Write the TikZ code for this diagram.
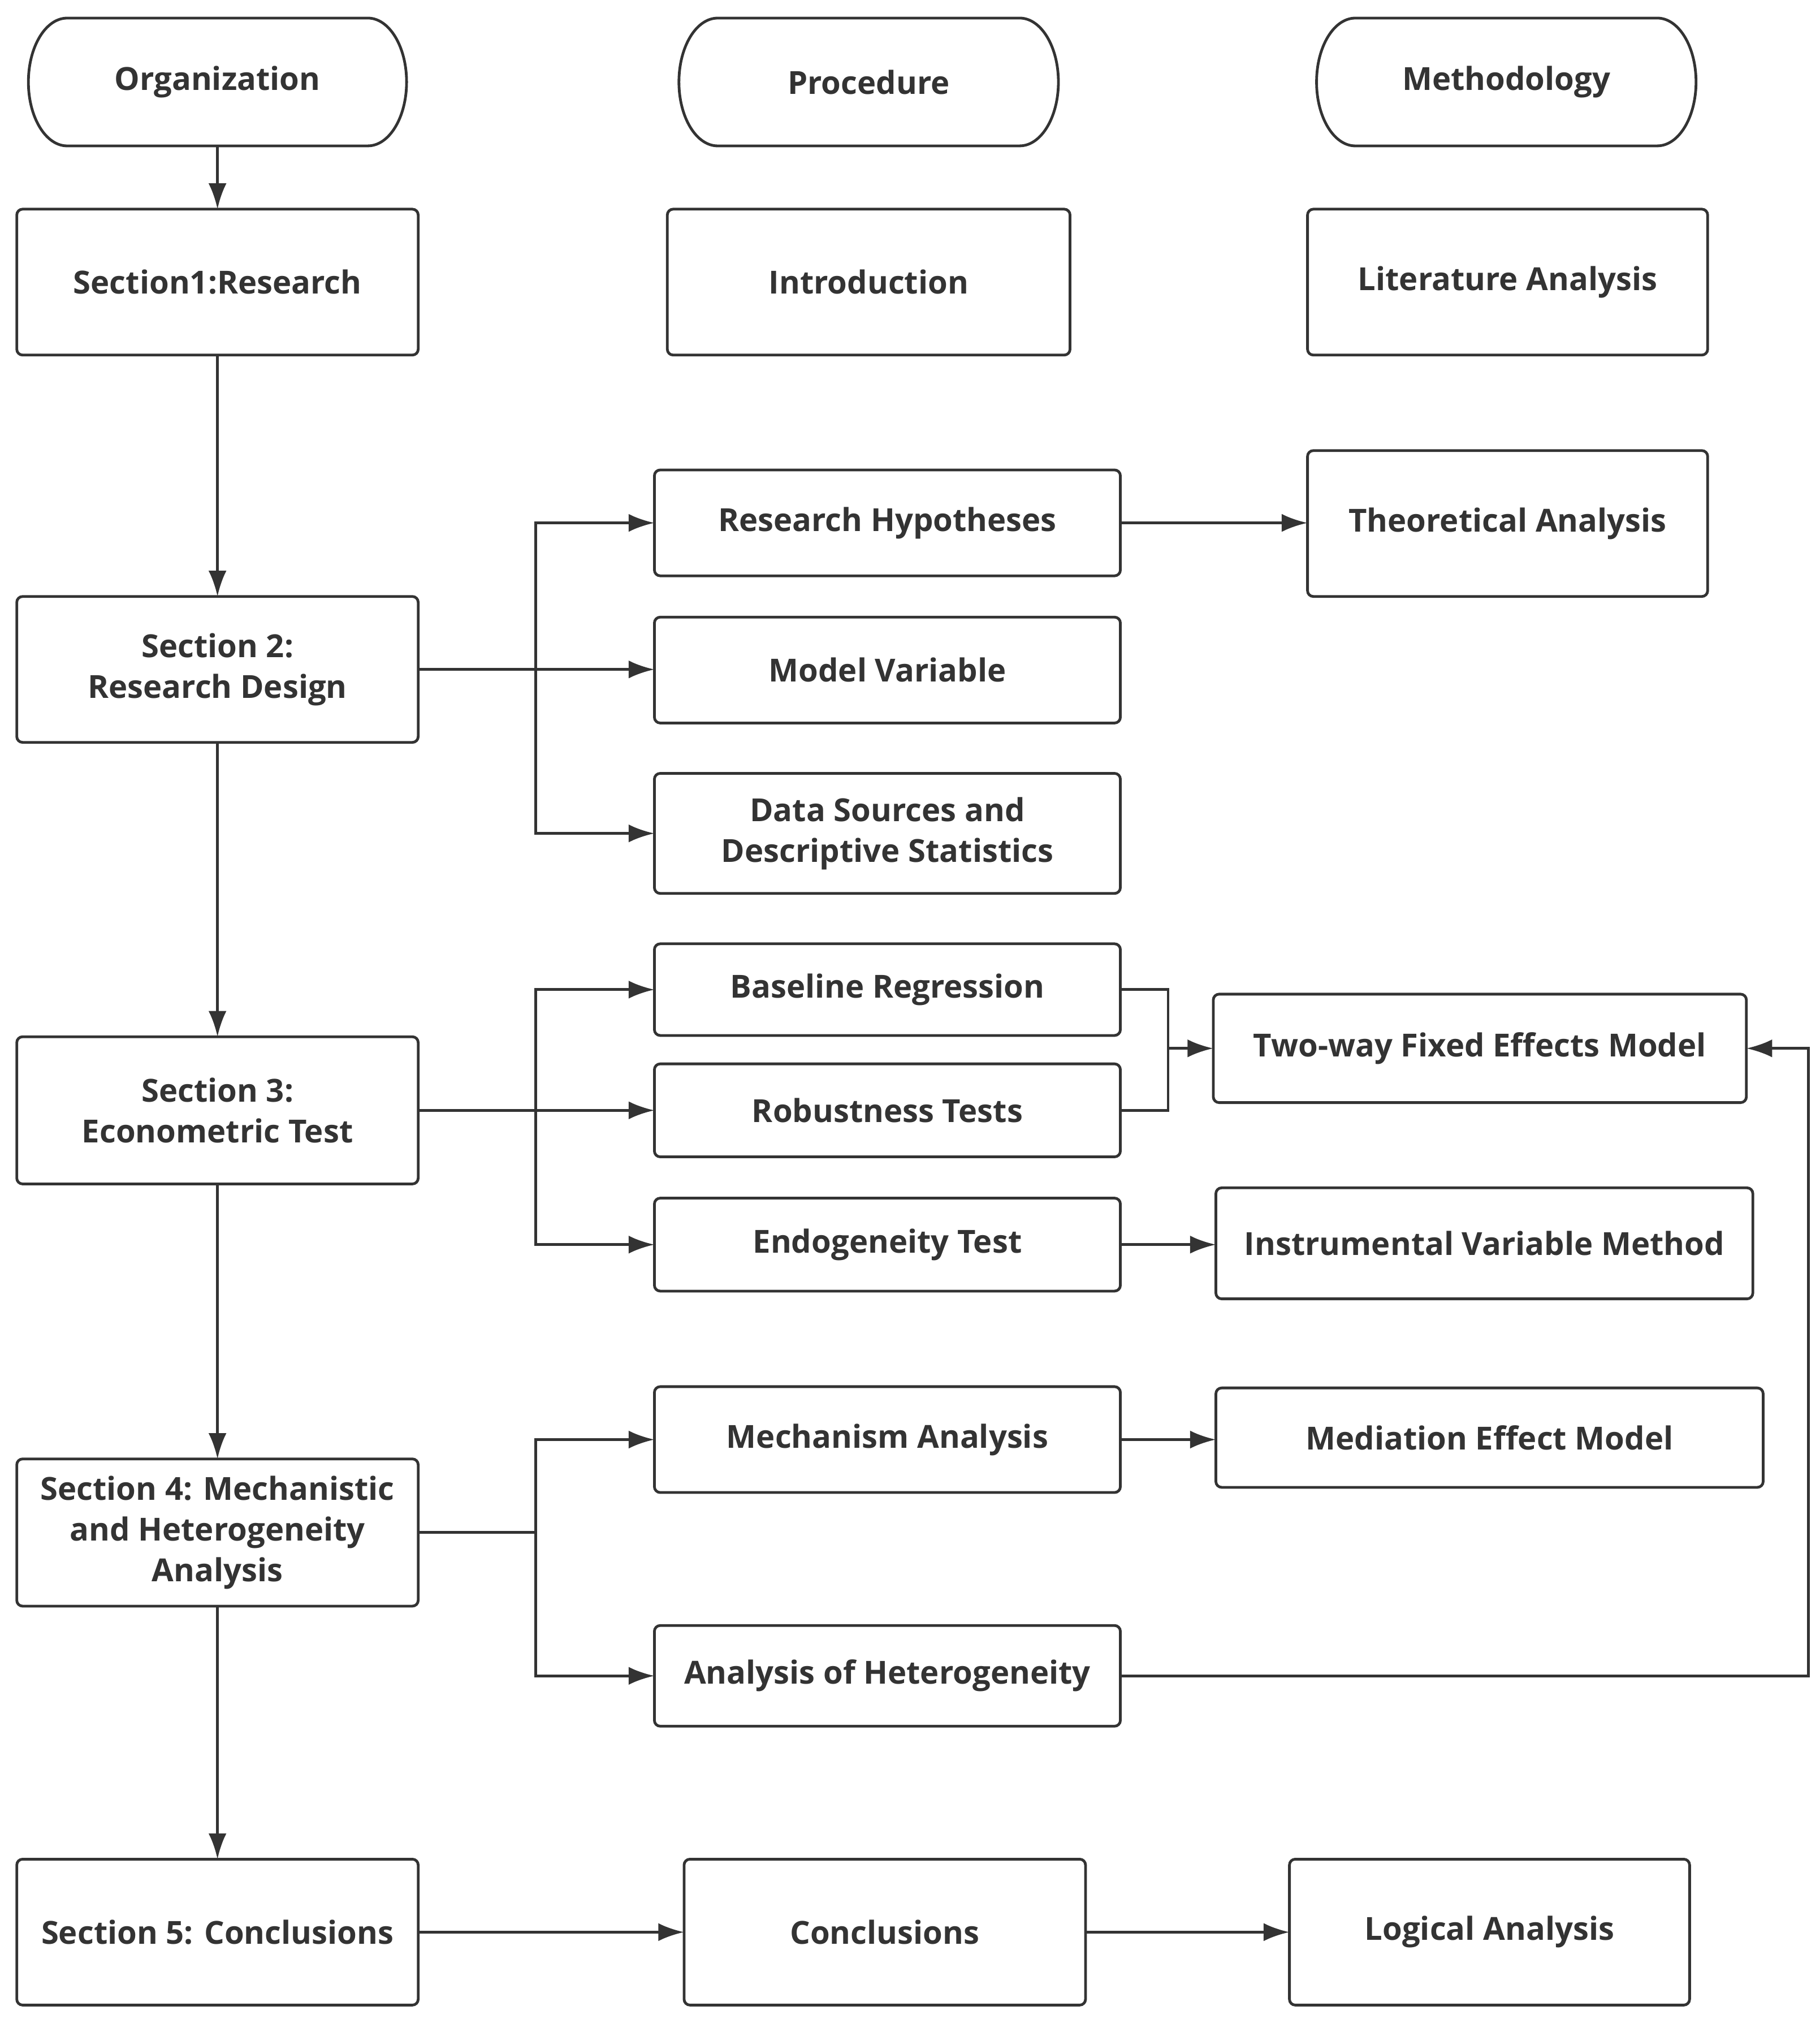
\documentclass[tikz,border=0pt]{standalone}
\usepackage{fontspec}
\setmainfont{Open Sans}
\usetikzlibrary{arrows.meta,calc}
\definecolor{ink}{HTML}{333333}
\tikzset{
  box/.style={draw=ink, line width=1.2pt, rounded corners=0.09cm, inner sep=0pt, outer sep=0pt,
    align=center, text=ink, font=\fontsize{14}{18}\selectfont\bfseries},
  term/.style={draw=none, inner sep=0pt, outer sep=0pt, align=center, text=ink,
    font=\fontsize{14}{18}\selectfont\bfseries},
  ln/.style={draw=ink, line width=1.2pt},
  arr/.style={ln, -{Latex[length=0.4cm,width=0.28cm]}},
}
\newcommand{\mkbox}[7][box]{%
  \node[#1, minimum width={(#4-#2)*0.02cm}, minimum height={(#5-#3)*0.02cm}]
    (#6) at ({(#2+#4)/2},{(#3+#5)/2}) {#7};}
\newcommand{\stadium}[1]{%
  \draw[ln] ($(#1.north west)+(0.6cm,0)$) -- ($(#1.north east)+(-0.6cm,0)$)
    arc[start angle=90, end angle=-90, x radius=0.6cm, y radius=0.99cm]
    -- ($(#1.south west)+(0.6cm,0)$)
    arc[start angle=270, end angle=90, x radius=0.6cm, y radius=0.99cm] -- cycle;}
\begin{document}
\begin{tikzpicture}[x=0.02cm, y=-0.02cm]
\useasboundingbox (0,0) rectangle (1410,1563.8);
% headers
\mkbox[term]{22}{14}{315}{113}{org}{Organization}
\mkbox[term]{526}{14}{820}{113}{proc}{Procedure}
\mkbox[term]{1020}{14}{1314}{113}{meth}{Methodology}
\stadium{org}\stadium{proc}\stadium{meth}
% column 1
\mkbox{13}{162}{324}{275}{s1}{Section1:Research}
\mkbox{13}{462}{324}{575}{s2}{Section 2:\\Research Design}
\mkbox{13}{803}{324}{917}{s3}{Section 3:\\Econometric Test}
\mkbox{13}{1130}{324}{1244}{s4}{Section 4: Mechanistic\\and Heterogeneity\\Analysis}
\mkbox{13}{1440}{324}{1553}{s5}{Section 5: Conclusions}
% column 2
\mkbox{517}{162}{829}{275}{intro}{Introduction}
\mkbox{507}{364}{868}{446}{rh}{Research Hypotheses}
\mkbox{507}{478}{868}{560}{mv}{Model Variable}
\mkbox{507}{599}{868}{692}{ds}{Data Sources and\\Descriptive Statistics}
\mkbox{507}{731}{868}{802}{br}{Baseline Regression}
\mkbox{507}{824}{868}{896}{rt}{Robustness Tests}
\mkbox{507}{928}{868}{1000}{et}{Endogeneity Test}
\mkbox{507}{1074}{868}{1156}{ma}{Mechanism Analysis}
\mkbox{507}{1259}{868}{1337}{ah}{Analysis of Heterogeneity}
\mkbox{530}{1440}{841}{1553}{conc}{Conclusions}
% column 3
\mkbox{1013}{162}{1323}{275}{lit}{Literature Analysis}
\mkbox{1013}{349}{1323}{462}{ta}{Theoretical Analysis}
\mkbox{940}{770}{1353}{854}{tw}{Two-way Fixed Effects Model}
\mkbox{942}{920}{1358}{1006}{iv}{Instrumental Variable Method}
\mkbox{942}{1075}{1366}{1152}{med}{Mediation Effect Model}
\mkbox{999}{1440}{1309}{1553}{log}{Logical Analysis}
% junction coordinates
\coordinate (j2) at (415,518);
\coordinate (j3) at (415,859);
\coordinate (j4) at (415,1197);
\coordinate (jb) at (905,812);
\coordinate (jr) at (1401,812);
% main column
\draw[arr] (org) -- (s1);
\draw[arr] (s1) -- (s2);
\draw[arr] (s2) -- (s3);
\draw[arr] (s3) -- (s4);
\draw[arr] (s4) -- (s5);
% section 2 branches
\draw[ln] (s2.east) -- (s2.east -| j2);
\draw[arr] (s2.east -| j2) |- (rh.west);
\draw[arr] (s2.east -| j2) -- (mv.west |- s2.east);
\draw[arr] (s2.east -| j2) |- (ds.west);
\draw[arr] (rh.east) -- (ta.west |- rh.east);
% section 3 branches
\draw[ln] (s3.east) -- (s3.east -| j3);
\draw[arr] (s3.east -| j3) |- (br.west);
\draw[arr] (s3.east -| j3) -- (rt.west |- s3.east);
\draw[arr] (s3.east -| j3) |- (et.west);
\draw[ln] (br.east) -| (jb);
\draw[ln] (rt.east) -| (jb);
\draw[arr] (jb) -- (tw.west);
\draw[arr] (et.east) -- (iv.west |- et.east);
% section 4 branches
\draw[ln] (s4.east) -- (s4.east -| j4);
\draw[arr] (s4.east -| j4) |- (ma.west);
\draw[arr] (s4.east -| j4) |- (ah.west);
\draw[arr] (ma.east) -- (med.west |- ma.east);
\draw[arr] (ah.east) -| (jr) -- (tw.east);
% section 5
\draw[arr] (s5) -- (conc);
\draw[arr] (conc) -- (log);
\end{tikzpicture}
\end{document}
